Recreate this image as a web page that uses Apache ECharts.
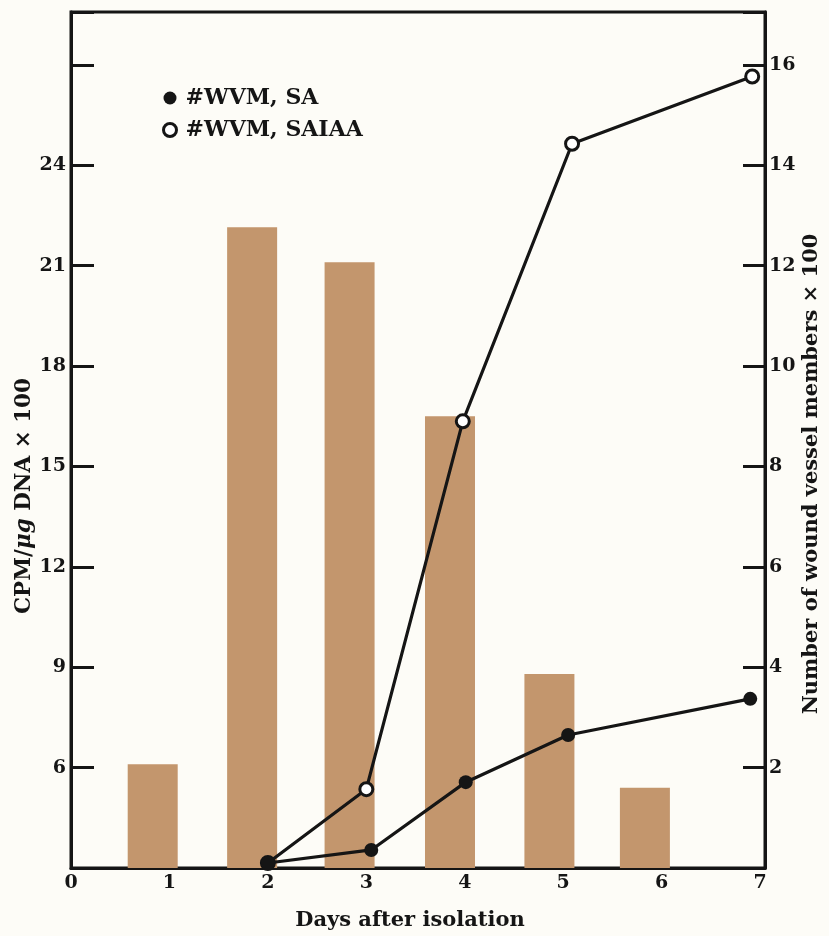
<!DOCTYPE html>
<html><head><meta charset="utf-8">
<script src="https://cdn.jsdelivr.net/npm/echarts@6/dist/echarts.min.js"></script>
<style>html,body{margin:0;padding:0;background:#fdfcf7}#c{width:829px;height:936px}</style>
</head><body><div id="c"></div>
<script>
// ---- data ----
const dayTicks = [0, 1, 2, 3, 4, 5, 6, 7];
const barDays = [0.83, 1.84, 2.83, 3.85, 4.86, 5.83];
const cpmValues = [6.1, 22.15, 21.1, 16.5, 8.8, 5.4];
const saDays = [2.0, 3.05, 4.01, 5.05, 6.90];
const saValues = [0.1, 0.36, 1.71, 2.65, 3.37];
const saiaaDays = [2.0, 3.0, 3.98, 5.09, 6.92];
const saiaaValues = [0.1, 1.57, 8.9, 14.43, 15.77];
const leftTickLabels = [6, 9, 12, 15, 18, 21, 24];
const rightTickLabels = [2, 4, 6, 8, 10, 12, 14, 16];
const seriesNames = ['#WVM, SA', '#WVM, SAIAA'];
const xTitle = 'Days after isolation';
const yLeftTitle = 'CPM/{i|μg} DNA × 100';
const yRightTitle = 'Number of wound vessel members × 100';

const INK = '#151515';
const FONT = 'DejaVu Serif';
const chart = echarts.init(document.getElementById('c'), null, {renderer: 'canvas'});

const pairs = (xs, ys) => xs.map((x, i) => [x, ys[i]]);

chart.setOption({
  backgroundColor: '#fdfcf7',
  animation: false,
  grid: {left: 71, right: 64, top: 12, bottom: 68, show: true,
         borderColor: INK, borderWidth: 3, backgroundColor: 'transparent'},
  legend: {
    orient: 'vertical', left: 162, top: 87, padding: 0, itemWidth: 13, itemHeight: 13, itemGap: 10,
    selectedMode: false,
    textStyle: {fontFamily: FONT, fontWeight: 'bold', fontSize: 22, lineHeight: 22, color: INK, padding: [0, 0, 0, 4]},
    data: [
      {name: seriesNames[0], icon: 'circle', itemStyle: {color: INK, borderWidth: 0}},
      {name: seriesNames[1], icon: 'circle', itemStyle: {color: '#ffffff', borderColor: INK, borderWidth: 3}}
    ]
  },
  xAxis: {
    type: 'value', min: 0, max: 7.05, interval: 1,
    axisLine: {show: true, onZero: false, lineStyle: {color: INK, width: 3}},
    axisTick: {show: false},
    splitLine: {show: false},
    axisLabel: {
      margin: 6, fontFamily: FONT, fontWeight: 'bold', fontSize: 19, color: INK,
      formatter: v => dayTicks.includes(v) ? String(v) : ''
    }
  },
  yAxis: [
    {
      type: 'value', position: 'left', min: 3, max: 28.58, interval: 3,
      axisLine: {show: true, onZero: false, lineStyle: {color: INK, width: 3}},
      axisTick: {show: true, inside: true, length: 23, lineStyle: {color: INK, width: 3}},
      splitLine: {show: false},
      axisLabel: {
        margin: 5, fontFamily: FONT, fontWeight: 'bold', fontSize: 19, color: INK,
        formatter: v => leftTickLabels.includes(v) ? String(v) : ''
      }
    },
    {
      type: 'value', position: 'right', min: 0, max: 17.055, interval: 2,
      axisLine: {show: true, onZero: false, lineStyle: {color: INK, width: 3}},
      axisTick: {show: true, inside: true, length: 22, lineStyle: {color: INK, width: 3}},
      splitLine: {show: false},
      axisLabel: {
        margin: 4, fontFamily: FONT, fontWeight: 'bold', fontSize: 19, color: INK,
        formatter: v => rightTickLabels.includes(v) ? String(v) : ''
      }
    }
  ],
  series: [
    {
      name: 'CPM', type: 'bar', xAxisIndex: 0, yAxisIndex: 0, clip: true,
      barWidth: 50, itemStyle: {color: '#c3966d'},
      data: pairs(barDays, cpmValues), z: 1
    },
    {
      name: seriesNames[1], type: 'line', yAxisIndex: 1,
      symbol: 'circle', symbolSize: 13,
      lineStyle: {color: INK, width: 3.2},
      itemStyle: {color: '#ffffff', borderColor: INK, borderWidth: 3},
      data: pairs(saiaaDays, saiaaValues), z: 3
    },
    {
      name: seriesNames[0], type: 'line', yAxisIndex: 1,
      symbol: 'circle', symbolSize: 14,
      lineStyle: {color: INK, width: 3.2},
      itemStyle: {color: INK},
      data: pairs(saDays, saValues), z: 4
    }
  ],
  graphic: [
    {type: 'text', x: 410, y: 921, style: {text: xTitle, font: 'bold 21px "DejaVu Serif"', fill: INK, align: 'center', verticalAlign: 'middle'}},
    {type: 'text', x: 24, y: 496, rotation: Math.PI / 2,
     style: {text: yLeftTitle, font: 'bold 21.5px "DejaVu Serif"', fill: INK, align: 'center', verticalAlign: 'middle',
             rich: {i: {fontStyle: 'italic', fontWeight: 'bold', fontFamily: FONT, fontSize: 21.5, fill: INK}}}},
    {type: 'text', x: 812, y: 474, rotation: Math.PI / 2,
     style: {text: yRightTitle, font: 'bold 21px "DejaVu Serif"', fill: INK, align: 'center', verticalAlign: 'middle'}}
  ]
});
</script></body></html>
